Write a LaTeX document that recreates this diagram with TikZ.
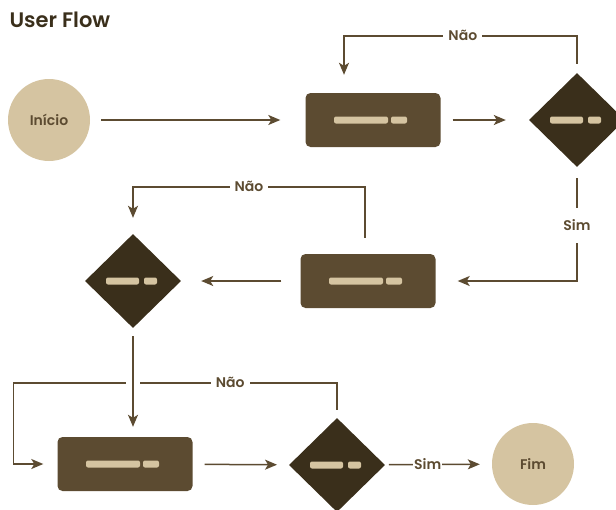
\documentclass[tikz,border=0pt]{standalone}
\usepackage{fontspec}
\setmainfont{Poppins}[BoldFont={Poppins SemiBold}]
\usetikzlibrary{shapes.geometric,arrows.meta}
\definecolor{bege}{HTML}{D5C4A1}
\definecolor{marrom}{HTML}{5C4B31}
\definecolor{escuro}{HTML}{3A2F1B}
\begin{document}
\begin{tikzpicture}[x=1pt,y=-1pt]
    \tikzstyle{terminal}=[circle,fill=bege,minimum size=82pt,inner sep=0pt,text=marrom,font=\bfseries\fontsize{14}{14}\selectfont]
    \tikzstyle{etapa}=[rectangle,rounded corners=5pt,fill=marrom,minimum width=135pt,minimum height=54pt]
    \tikzstyle{decisao}=[diamond,fill=escuro,minimum width=96pt,minimum height=94pt,inner sep=0pt]
    \tikzstyle{barra}=[fill=bege,rounded corners=2pt]
    \tikzstyle{seta}=[draw=marrom,line width=1.5pt,-{Stealth[length=12pt,width=10pt,inset=3pt]}]
    \tikzstyle{rotulo}=[fill=white,text=marrom,font=\bfseries\fontsize{14}{14}\selectfont]
    \useasboundingbox (0,0) rectangle (616,509);
    \node[anchor=west,text=escuro,font=\bfseries\fontsize{21}{21}\selectfont] (titulo) at (6,20) {User Flow};
    \node[terminal] (ini) at (49,120) {Início};
    \node[etapa] (e1) at (373,120) {};
    \node[decisao] (d1) at (577,120) {};
    \node[etapa] (e2) at (368,281) {};
    \node[decisao] (d2) at (133,281) {};
    \node[etapa] (e3) at (125,464) {};
    \node[decisao] (d3) at (337,465) {};
    \node[terminal] (fim) at (533,464) {Fim};
    % barras
    \foreach \n in {e1,e2,e3} {
        \fill[barra] ([xshift=-39pt,yshift=-3.5pt]\n.center) rectangle ([xshift=15pt,yshift=3.5pt]\n.center);
        \fill[barra] ([xshift=18pt,yshift=-3.5pt]\n.center) rectangle ([xshift=34pt,yshift=3.5pt]\n.center);
    }
    \foreach \n in {d1,d2,d3} {
        \fill[barra] ([xshift=-27pt,yshift=-3.5pt]\n.center) rectangle ([xshift=6pt,yshift=3.5pt]\n.center);
        \fill[barra] ([xshift=11pt,yshift=-3.5pt]\n.center) rectangle ([xshift=24pt,yshift=3.5pt]\n.center);
    }
    % setas
    \draw[seta,shorten <=11pt,shorten >=25pt] (ini) -- (e1);
    \draw[seta,shorten <=12pt,shorten >=23pt] (e1) -- (d1);
    \draw[seta,shorten <=9pt,shorten >=18pt] (d1.north) -- ++(0,-37) -| node[rotulo,pos=0.245,inner xsep=5pt]{Não} ([xshift=-29pt]e1.north);
    \draw[seta,shorten <=11pt,shorten >=22pt] (d1.south) |- node[rotulo,pos=0.255,inner ysep=12pt]{Sim} (e2.east);
    \draw[seta,shorten <=19pt,shorten >=20pt] (e2) -- (d2);
    \draw[seta,shorten <=16pt,shorten >=16pt] ([xshift=-3pt]e2.north) -- ++(0,-67) -| node[rotulo,pos=0.25,inner xsep=5pt]{Não} (d2.north);
    \coordinate (n3) at ([yshift=35pt]d3.north);
    \draw[seta,shorten <=8pt,shorten >=14pt] (d3.north) -- (n3) -| node[rotulo,pos=0.165,inner xsep=5pt]{Não} ([xshift=-44pt]e3.west) -- (e3.west);
    \draw[white,line width=5pt] ([xshift=-7pt]d2.south |- n3) -- ([xshift=7pt]d2.south |- n3);
    \draw[seta,shorten <=8pt,shorten >=10pt] (d2.south) -- (d2.south |- e3.north);
    \draw[seta,shorten <=12pt,shorten >=12pt] (e3) -- (d3);
    \draw[seta,shorten <=4pt,shorten >=12pt] (d3) -- node[rotulo,pos=0.4,inner xsep=1pt]{Sim} (fim);
\end{tikzpicture}
\end{document}
